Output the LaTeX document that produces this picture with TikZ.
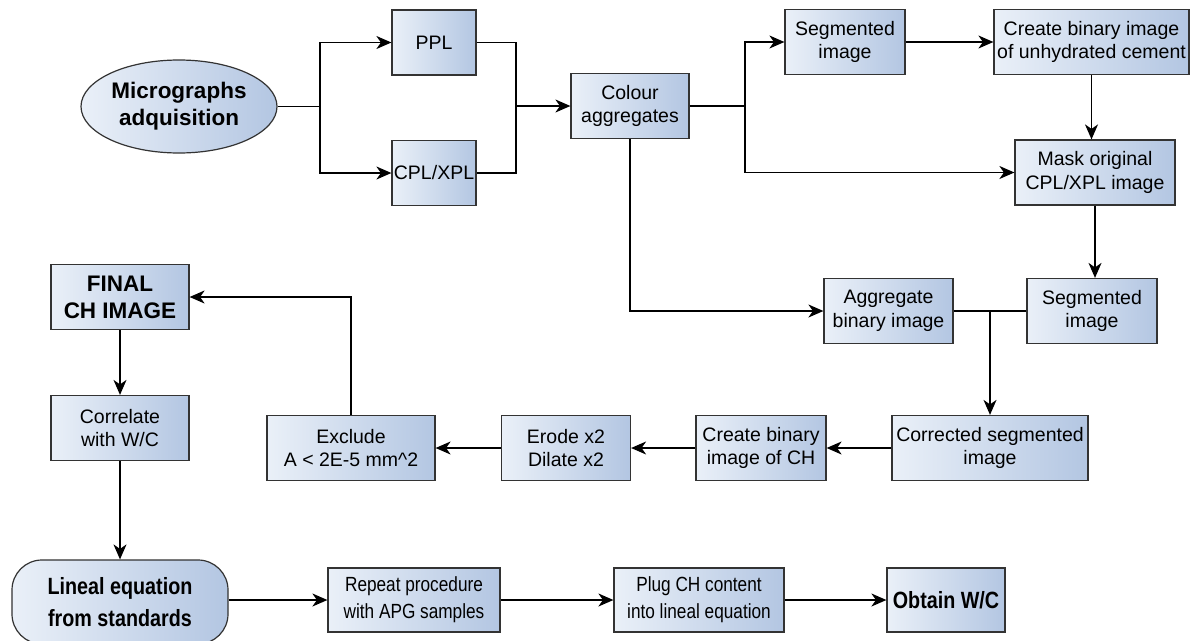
\documentclass[tikz,border=0pt]{standalone}
\usepackage{fontspec}
\setmainfont{Liberation Sans}
\newfontfamily\narrowfont[FakeStretch=0.84]{Liberation Sans}
\usetikzlibrary{arrows.meta,shapes.geometric}
\definecolor{boxL}{HTML}{EAF0F8}
\definecolor{boxR}{HTML}{B3C6E2}
\definecolor{edge}{HTML}{333333}
\tikzset{
  box/.style={draw=edge, line width=1.2pt, left color=boxL, right color=boxR,
    align=center, inner sep=1pt, minimum height=65pt,
    font=\fontsize{19.5}{23.4}\selectfont},
  boldbox/.style={box, font=\fontsize{22.5}{27}\selectfont\bfseries},
  narrowbox/.style={box, minimum height=64pt, font=\narrowfont\fontsize{20.5}{27}\selectfont},
  narrowbold/.style={box, minimum height=64pt, font=\narrowfont\fontsize{23.5}{32}\selectfont\bfseries},
  line/.style={draw=black, line width=1.4pt},
  arr/.style={line, -{Stealth[length=15pt,width=13pt,inset=4.5pt]}},
}
\begin{document}
\begin{tikzpicture}[x=1pt,y=-1pt]
\useasboundingbox (0,0) rectangle (1201,640);
\fill[white] (0,0) rectangle (1201,640);
% nodes
\node[boldbox, ellipse, minimum width=196pt, minimum height=93pt] (mic) at (179,106.5) {Micrographs\\adquisition};
\node[box, minimum width=84pt] (ppl) at (434,42.5) {PPL};
\node[box, minimum width=84pt] (cpl) at (434,173) {CPL/XPL};
\node[box, minimum width=118pt] (col) at (630,106) {Colour\\aggregates};
\node[box, minimum width=120pt] (seg1) at (845,42) {Segmented\\image};
\node[box, minimum width=195pt] (cbu) at (1091.5,42) {Create binary image\\of unhydrated cement};
\node[box, minimum width=160pt] (mask) at (1095,172.5) {Mask original\\CPL/XPL image};
\node[box, minimum width=130pt] (seg2) at (1092,311) {Segmented\\image};
\node[box, minimum width=129pt] (agg) at (888.5,311) {Aggregate\\binary image};
\node[box, minimum width=196pt] (corr) at (990,448) {Corrected segmented\\image};
\node[box, minimum width=130pt] (cch) at (761,448) {Create binary\\image of CH};
\node[box, minimum width=129pt] (ero) at (566,448) {Erode x2\\Dilate x2};
\node[box, minimum width=168pt] (excl) at (351,448) {Exclude\\A < 2E-5 mm\textasciicircum 2};
\node[boldbox, minimum width=138pt] (fin) at (120,297) {FINAL\\CH IMAGE};
\node[box, minimum width=138pt] (corl) at (120,428) {Correlate\\with W/C};
\node[narrowbold, rounded corners=30pt, minimum width=216pt, minimum height=84pt] (lin) at (120,602) {Lineal equation\\from standards};
\node[narrowbox, minimum width=172pt] (rep) at (414,600) {Repeat procedure\\with APG samples};
\node[narrowbox, minimum width=170pt] (plug) at (699,600) {Plug CH content\\into lineal equation};
\node[narrowbold, minimum width=118pt] (obt) at (946,600) {Obtain W/C};
% junctions
\coordinate (jm) at (320,106.5);
\coordinate (jp) at (516,106);
\coordinate (jc) at (745,106);
\coordinate (ja) at (990,311);
% connectors
\draw[line] (mic.east) -- (jm);
\draw[arr] (jm) |- (ppl.west);
\draw[arr] (jm) |- (cpl.west);
\draw[line] (ppl.east) -| (jp);
\draw[line] (cpl.east) -| (jp);
\draw[arr] (jp) -- (col.west);
\draw[line] (col.east) -- (jc);
\draw[arr] (jc) |- (seg1.west);
\draw[arr] (jc) |- (mask.west);
\draw[arr] (seg1.east) -- (cbu.west);
\draw[arr] (cbu.south) -- (cbu.south |- mask.north);
\draw[arr] (mask.south) -- (mask.south |- seg2.north);
\draw[arr] (col.south) |- (agg.west);
\draw[line] (agg.east) -- (seg2.west);
\draw[arr] (ja) -- (corr.north);
\draw[arr] (corr.west) -- (cch.east);
\draw[arr] (cch.west) -- (ero.east);
\draw[arr] (ero.west) -- (excl.east);
\draw[arr] (excl.north) |- (fin.east);
\draw[arr] (fin.south) -- (corl.north);
\draw[arr] (corl.south) -- (corl.south |- lin.north);
\draw[arr] (lin.east |- rep.west) -- (rep.west);
\draw[arr] (rep.east) -- (plug.west);
\draw[arr] (plug.east) -- (obt.west);
\end{tikzpicture}
\end{document}
